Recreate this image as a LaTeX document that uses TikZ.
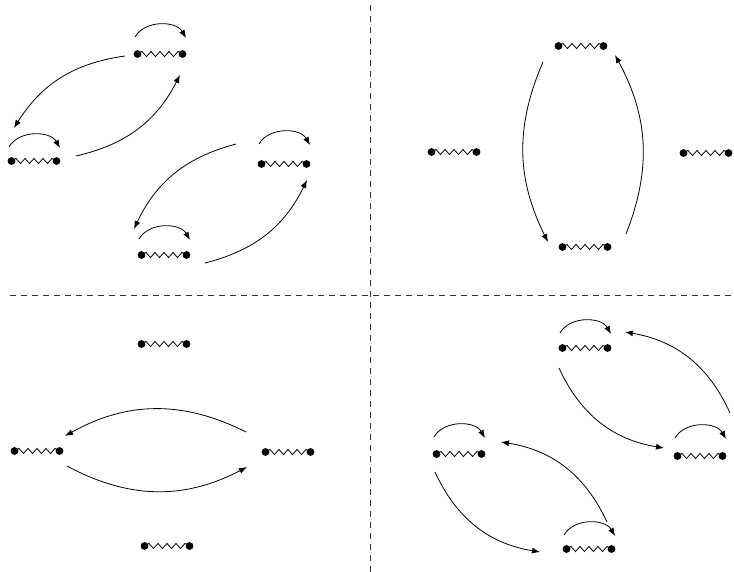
\documentclass[tikz,border=0pt]{standalone}
\usetikzlibrary{arrows.meta}
\tikzset{
  x=1pt, y=1pt,
  con/.style={line width=0.8pt, -{Latex[length=8pt,width=6pt]}},
  sep/.style={line width=0.6pt, dash pattern=on 6pt off 5pt, black!80},
  coil/.style={line width=0.8pt, line join=miter},
  spring/.pic={
    \coordinate (-c) at (0,0);
    \draw[coil] (-22.5,0) -- (-18,2.5) -- (-13.5,-2.5) -- (-9,2.5) -- (-4.5,-2.5) -- (0,2.5)
      -- (4.5,-2.5) -- (9,2.5) -- (13.5,-2.5) -- (18,2.5) -- (22.5,0);
    \fill (-22.5,0) circle (3.9) (22.5,0) circle (3.9);
  },
  kspring/.pic={
    \coordinate (-c) at (0,0);
    \draw[coil] (-22.5,0) -- (-18,2.5) -- (-13.5,-2.5) -- (-9,2.5) -- (-4.5,-2.5) -- (0,2.5)
      -- (4.5,-2.5) -- (9,2.5) -- (13.5,-2.5) -- (18,2.5) -- (22.5,0);
    \fill (-22.5,0) circle (3.9) (22.5,0) circle (3.9);
    \coordinate (-s) at (-25,#1);
    \coordinate (-e) at (26,#1-1);
    \draw[con] (-s) to[out=60,in=120] (-e);
  },
  kspring/.default=16
}
\begin{document}
\begin{tikzpicture}
\useasboundingbox (0,0) rectangle (734,-572);
% separators
\draw[sep] (370,-5) -- (370,-572);
\draw[sep] (10,-295) -- (732,-295);

% top-left
\pic (A) at (160,-54) {kspring=17};
\pic (B) at (34,-161) {kspring=14};
\pic (C) at (284,-164) {kspring=20};
\pic (D) at (164,-255) {kspring=16};
\coordinate (a1) at (125,-56);  \coordinate (a2) at (14,-128);
\coordinate (b1) at (76,-156);  \coordinate (b2) at (180,-75);
\coordinate (c1) at (236,-144); \coordinate (c2) at (134,-229);
\coordinate (d1) at (205,-263); \coordinate (d2) at (307,-180);
\draw[con] (a1) to[bend right=25] (a2);
\draw[con] (b1) to[bend right=25] (b2);
\draw[con] (c1) to[bend right=25] (c2);
\draw[con] (d1) to[bend right=25] (d2);

% top-right
\pic (E) at (581,-46) {spring};
\pic (F) at (585,-247) {spring};
\pic (G) at (454,-152) {spring};
\pic (H) at (706,-153) {spring};
\coordinate (e1) at (543,-62);  \coordinate (e2) at (548,-242);
\coordinate (f1) at (626,-234); \coordinate (f2) at (615,-55);
\draw[con] (e1) to[bend right=25] (e2);
\draw[con] (f1) to[bend right=25] (f2);

% bottom-left
\pic (I) at (164,-344) {spring};
\pic (J) at (37,-451) {spring};
\pic (K) at (288,-452) {spring};
\pic (L) at (167,-546) {spring};
\coordinate (k1) at (246,-432); \coordinate (k2) at (65,-436);
\coordinate (j1) at (67,-466);  \coordinate (j2) at (247,-467);
\draw[con] (k1) to[bend right=28] (k2);
\draw[con] (j1) to[bend right=28] (j2);

% bottom-right
\pic (M) at (585,-348) {kspring=15};
\pic (N) at (700,-456) {kspring=18};
\pic (O) at (459,-454) {kspring=17};
\pic (P) at (589,-549) {kspring=14};
\coordinate (m1) at (559,-368); \coordinate (m2) at (664,-448);
\coordinate (n1) at (730,-413); \coordinate (n2) at (625,-332);
\coordinate (o1) at (435,-472); \coordinate (o2) at (540,-552);
\coordinate (p1) at (607,-522); \coordinate (p2) at (501,-442);
\draw[con] (m1) to[bend right=28] (m2);
\draw[con] (n1) to[bend right=28] (n2);
\draw[con] (o1) to[bend right=28] (o2);
\draw[con] (p1) to[bend right=28] (p2);
\end{tikzpicture}
\end{document}
